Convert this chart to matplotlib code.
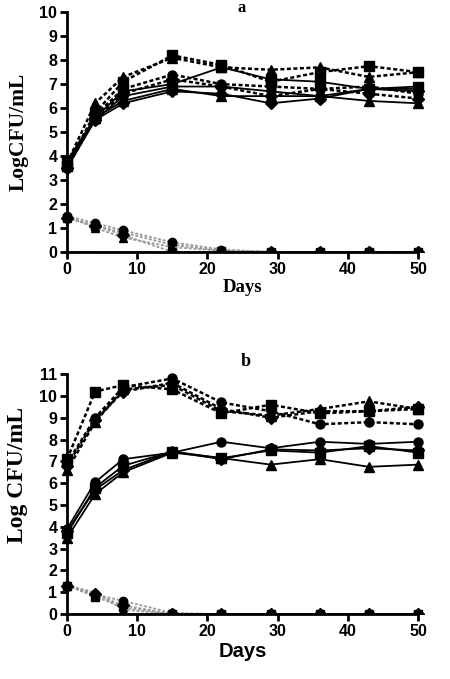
import matplotlib
matplotlib.use("Agg")
import matplotlib.pyplot as plt
from matplotlib.transforms import Bbox, TransformedBbox

days = [0, 4, 8, 15, 22, 29, 36, 43, 50]

# Panel a
a_dotted = {
    "s": [3.6, 5.8, 7.1, 8.2, 7.8, 7.1, 7.5, 7.75, 7.5],
    "^": [3.7, 6.2, 7.3, 8.1, 7.7, 7.6, 7.7, 7.3, 7.5],
    "o": [3.6, 5.7, 6.8, 7.4, 7.0, 6.9, 6.8, 6.9, 6.6],
    "D": [3.5, 5.6, 6.6, 7.2, 6.9, 6.5, 6.8, 6.6, 6.4],
}
a_solid = {
    "s": [3.8, 5.6, 6.7, 7.0, 7.7, 7.2, 7.1, 6.8, 6.9],
    "o": [3.7, 5.5, 6.5, 6.9, 6.9, 6.7, 6.5, 6.8, 6.8],
    "^": [3.6, 5.6, 6.3, 6.8, 6.5, 6.5, 6.5, 6.3, 6.2],
    "D": [3.5, 5.5, 6.2, 6.7, 6.6, 6.2, 6.4, 6.8, 6.7],
}
a_low = {
    "o": [1.5, 1.2, 0.9, 0.4, 0.1, 0.0, 0.0, 0.0, 0.0],
    "s": [1.4, 1.1, 0.8, 0.3, 0.05, 0.0, 0.0, 0.0, 0.0],
    "^": [1.5, 1.0, 0.6, 0.2, 0.05, 0.0, 0.0, 0.0, 0.0],
    "D": [1.4, 1.1, 0.7, 0.0, 0.0, 0.0, 0.0, 0.0, 0.0],
}

# Panel b
b_dotted = {
    "s": [7.1, 10.2, 10.5, 10.3, 9.2, 9.6, 9.2, 9.3, 9.4],
    "^": [6.6, 8.8, 10.3, 10.5, 9.3, 9.1, 9.4, 9.75, 9.4],
    "o": [6.9, 9.0, 10.4, 10.8, 9.7, 9.3, 8.7, 8.8, 8.7],
    "D": [6.8, 8.9, 10.2, 10.6, 9.4, 9.0, 9.3, 9.3, 9.5],
}
b_solid = {
    "o": [3.9, 6.05, 7.1, 7.4, 7.9, 7.6, 7.9, 7.8, 7.9],
    "s": [3.7, 5.8, 6.8, 7.45, 7.15, 7.5, 7.4, 7.7, 7.4],
    "^": [3.5, 5.5, 6.5, 7.4, 7.15, 6.85, 7.1, 6.75, 6.85],
    "D": [3.8, 5.7, 6.6, 7.45, 7.1, 7.55, 7.5, 7.6, 7.5],
}
b_low = {
    "o": [1.3, 0.9, 0.6, 0.05, 0.0, 0.0, 0.0, 0.0, 0.0],
    "s": [1.3, 0.8, 0.3, 0.0, 0.0, 0.0, 0.0, 0.0, 0.0],
    "^": [1.3, 1.0, 0.2, 0.0, 0.0, 0.0, 0.0, 0.0, 0.0],
    "D": [1.3, 0.9, 0.4, 0.0, 0.0, 0.0, 0.0, 0.0, 0.0],
}

fig = plt.figure(figsize=(4.5, 6.79), dpi=100)

dot = (0, (1.6, 1.0))

def draw(ax, dotted, solid, low, ymax, xlab_family, xlab_size, ylab_text, ylab_size, ylab_y):
    # clip only below the x axis (markers at 0 appear as half symbols)
    clipbox = TransformedBbox(Bbox([[-0.1, 0.0], [1.1, 1.2]]), ax.transAxes)
    lines = []
    for m, v in low.items():
        lines += ax.plot(days, v, linestyle=dot, color="#9a9a9a", lw=1.3, marker=m,
                         ms=6, mfc="black", mec="black", zorder=2)
    ax.axhline(0, color="black", lw=1.2, linestyle=dot, zorder=2.5)
    for m, v in dotted.items():
        lines += ax.plot(days, v, linestyle=dot, color="black", lw=1.8, marker=m,
                         ms=6.5, mfc="black", mec="black", zorder=3)
    for m, v in solid.items():
        lines += ax.plot(days, v, linestyle="-", color="black", lw=1.3, marker=m,
                         ms=6.5, mfc="black", mec="black", zorder=3)
    for ln in lines:
        ln.set_clip_on(True)
        ln.set_clip_box(clipbox)
    ax.set_xlim(0, 50)
    ax.set_ylim(0, ymax)
    ax.set_xticks([0, 10, 20, 30, 40, 50])
    ax.set_yticks(range(0, ymax + 1))
    for s in ["top", "right"]:
        ax.spines[s].set_visible(False)
    for s in ["left", "bottom"]:
        ax.spines[s].set_linewidth(2)
    ax.tick_params(width=2, length=5, direction="out", labelsize=11.5, pad=2)
    for lab in ax.get_xticklabels() + ax.get_yticklabels():
        lab.set_fontweight("bold")
        lab.set_family("Liberation Sans")
    ax.set_xlabel("Days", fontsize=xlab_size, fontweight="bold", family=xlab_family, labelpad=2)
    ax.set_ylabel(ylab_text, fontsize=ylab_size, fontweight="bold",
                  family="Liberation Serif")
    ax.yaxis.set_label_coords(-0.11, ylab_y)

ax1 = fig.add_axes([0.149, 0.629, 0.78, 0.353])
draw(ax1, a_dotted, a_solid, a_low, 10, "Liberation Serif", 13.5, "LogCFU/mL", 15.5, 0.5)
ax2 = fig.add_axes([0.149, 0.0957, 0.78, 0.3533])
draw(ax2, b_dotted, b_solid, b_low, 11, "Liberation Sans", 14.5, "Log CFU/mL", 17, 0.58)

fig.text(0.537, 1.0, "a", ha="center", va="top", fontsize=12, fontweight="bold", family="Liberation Serif")
fig.text(0.545, 0.468, "b", ha="center", va="center", fontsize=13, fontweight="bold", family="Liberation Serif")

fig.savefig("out.png", dpi=100, facecolor="white")
